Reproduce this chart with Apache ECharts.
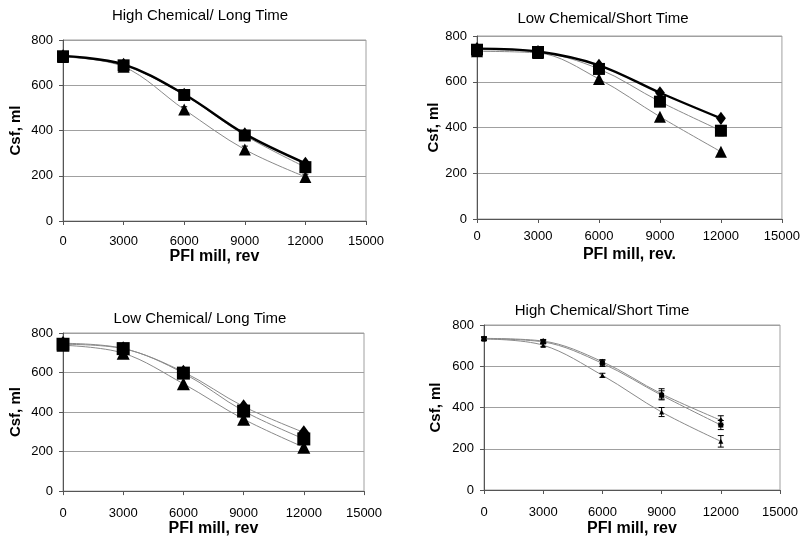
<!DOCTYPE html>
<html>
<head>
<meta charset="utf-8">
<script src="https://cdn.jsdelivr.net/npm/echarts@6/dist/echarts.min.js"></script>
<style>
html,body{margin:0;padding:0;background:#fff;}
#c{width:803px;height:538px;}
</style>
</head>
<body>
<div id="c"></div>
<script>
// ---- data ----
const revs = [0, 3000, 6000, 9000, 12000];
const xTicks = [0, 3000, 6000, 9000, 12000, 15000];
const yTicks = [0, 200, 400, 600, 800];

const titles = ['High Chemical/ Long Time', 'Low Chemical/Short Time', 'Low Chemical/ Long Time', 'High Chemical/Short Time'];
const xNames = ['PFI mill, rev', 'PFI mill, rev.', 'PFI mill, rev', 'PFI mill, rev'];
const yName = 'Csf, ml';

// High Chemical / Long Time
const p1Diamond = [730, 692, 560, 385, 255];
const p1Square = [728, 688, 557, 378, 238];
const p1Triangle = [725, 682, 493, 316, 195];
const p1TriangleErr = [5, 8, 12, 15, 12];

// Low Chemical / Short Time
const p2Diamond = [745, 732, 672, 552, 440];
const p2Square = [740, 730, 656, 513, 386];
const p2Triangle = [733, 726, 612, 447, 294];
const p2SquareErr = [8, 8, 12, 20, 22];

// Low Chemical / Long Time
const p3Diamond = [748, 722, 603, 428, 297];
const p3Square = [743, 721, 597, 405, 264];
const p3Triangle = [738, 698, 543, 364, 222];

// High Chemical / Short Time
const p4Diamond = [735, 722, 622, 466, 338];
const p4Square = [733, 718, 614, 459, 315];
const p4Triangle = [732, 702, 556, 378, 236];
const p4DiamondErr = [8, 8, 10, 25, 22];
const p4SquareErr = [8, 8, 15, 22, 22];
const p4TriangleErr = [6, 8, 10, 22, 28];

// ---- layout ----
const grids = [
  {left: 63, top: 40, width: 303, height: 181},
  {left: 477, top: 36, width: 310, height: 183},
  {left: 63, top: 333, width: 301, height: 159},
  {left: 484, top: 325, width: 296, height: 172}
];
const titlePos = [[200, 8], [603, 11], [200, 311], [602, 303]];
const xLabelMargin = [14, 11, 16, 16];
const xNameGap = [26, 28, 28, 31];
const yNameGap = [40, 34, 40, 41];

const font = 'Liberation Sans, Arial, sans-serif';

function pairs(vals) { return revs.map((r, i) => [r, vals[i]]); }

function lineSeries(gi, vals, symbol, size, thick) {
  return {
    type: 'line', xAxisIndex: gi, yAxisIndex: gi,
    data: pairs(vals), smooth: 0.35,
    symbol: symbol, symbolSize: symbol === 'diamond' ? [size * 0.9, size * 1.2] : size,
    itemStyle: {color: '#000'},
    lineStyle: {color: thick ? '#000' : '#8a8a8a', width: thick ? 2.4 : 1},
    z: thick ? 4 : 3,
    animation: false
  };
}

function errSeries(gi, vals, errs) {
  return {
    type: 'custom', xAxisIndex: gi, yAxisIndex: gi,
    data: revs.map((r, i) => [r, vals[i], errs[i]]),
    renderItem: function (params, api) {
      const x = api.value(0), v = api.value(1), e = api.value(2);
      const hi = api.coord([x, v + e]);
      const lo = api.coord([x, v - e]);
      const w = 3;
      const st = {stroke: '#000', lineWidth: 1};
      return {type: 'group', children: [
        {type: 'line', shape: {x1: hi[0], y1: hi[1], x2: lo[0], y2: lo[1]}, style: st},
        {type: 'line', shape: {x1: hi[0] - w, y1: hi[1], x2: hi[0] + w, y2: hi[1]}, style: st},
        {type: 'line', shape: {x1: lo[0] - w, y1: lo[1], x2: lo[0] + w, y2: lo[1]}, style: st}
      ]};
    },
    z: 5, animation: false
  };
}

const series = [
  errSeries(0, p1Triangle, p1TriangleErr),
  lineSeries(0, p1Triangle, 'triangle', 12, false),
  lineSeries(0, p1Square, 'rect', 12, false),
  lineSeries(0, p1Diamond, 'diamond', 11, true),

  errSeries(1, p2Square, p2SquareErr),
  lineSeries(1, p2Triangle, 'triangle', 12, false),
  lineSeries(1, p2Square, 'rect', 12, false),
  lineSeries(1, p2Diamond, 'diamond', 11, true),

  lineSeries(2, p3Triangle, 'triangle', 13, false),
  lineSeries(2, p3Diamond, 'diamond', 12, false),
  lineSeries(2, p3Square, 'rect', 13, false),

  errSeries(3, p4Diamond, p4DiamondErr),
  errSeries(3, p4Square, p4SquareErr),
  errSeries(3, p4Triangle, p4TriangleErr),
  lineSeries(3, p4Triangle, 'triangle', 5, false),
  lineSeries(3, p4Diamond, 'diamond', 5, false),
  lineSeries(3, p4Square, 'rect', 5, false)
];

const option = {
  backgroundColor: '#fff',
  animation: false,
  title: titles.map((t, i) => ({
    text: t, left: titlePos[i][0], top: titlePos[i][1], textAlign: 'center', padding: 0,
    textStyle: {fontFamily: font, fontSize: 15, fontWeight: 'normal', color: '#000'}
  })),
  grid: grids.map(g => Object.assign({show: true, borderColor: '#a0a0a0', borderWidth: 1, backgroundColor: '#fff'}, g)),
  xAxis: grids.map((g, i) => ({
    type: 'value', gridIndex: i, min: xTicks[0], max: xTicks[xTicks.length - 1], interval: xTicks[1] - xTicks[0],
    name: xNames[i], nameLocation: 'middle', nameGap: xNameGap[i],
    nameTextStyle: {fontFamily: font, fontSize: 16, fontWeight: 'bold', color: '#000'},
    axisLine: {show: true, onZero: false, lineStyle: {color: '#555', width: 1}},
    axisTick: {show: true, length: 4, lineStyle: {color: '#555'}},
    axisLabel: {fontFamily: font, fontSize: 13, color: '#000', margin: xLabelMargin[i], formatter: v => String(v)},
    splitLine: {show: false}
  })),
  yAxis: grids.map((g, i) => ({
    type: 'value', gridIndex: i, min: yTicks[0], max: yTicks[yTicks.length - 1], interval: yTicks[1] - yTicks[0],
    name: yName, nameLocation: 'middle', nameGap: yNameGap[i], nameRotate: 90,
    nameTextStyle: {fontFamily: font, fontSize: 15, fontWeight: 'bold', color: '#000'},
    axisLine: {show: true, lineStyle: {color: '#555', width: 1}},
    axisTick: {show: true, length: 4, lineStyle: {color: '#555'}},
    axisLabel: {fontFamily: font, fontSize: 13, color: '#000', margin: 10, formatter: v => String(v)},
    splitLine: {show: true, lineStyle: {color: '#a0a0a0', width: 1}}
  })),
  series: series
};

const chart = echarts.init(document.getElementById('c'), null, {renderer: 'canvas'});
chart.setOption(option);
</script>
</body>
</html>
